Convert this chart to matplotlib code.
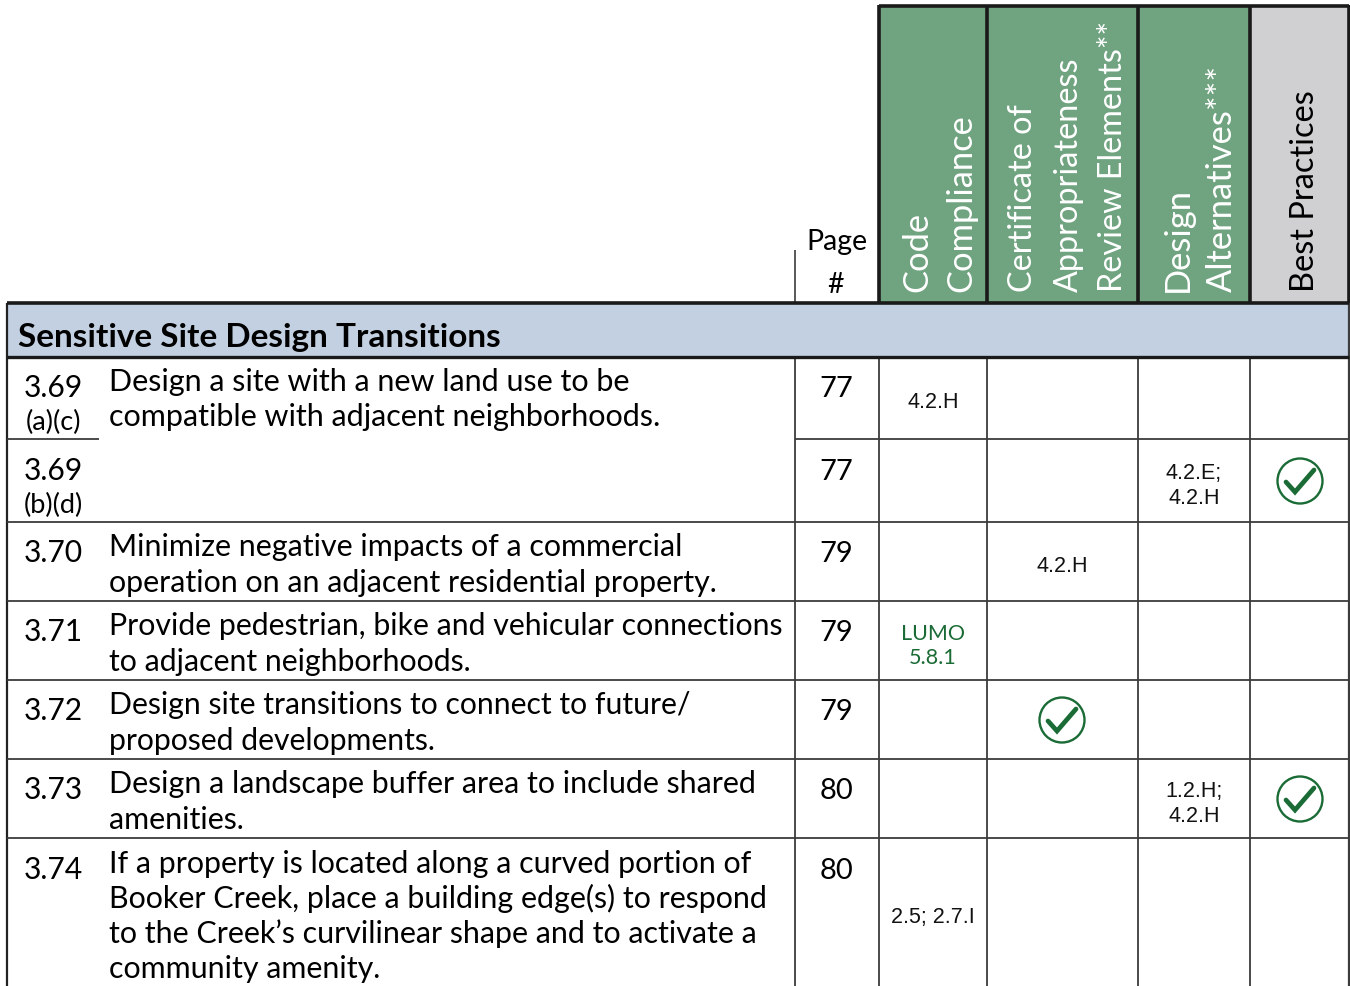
import matplotlib
matplotlib.use("Agg")
import matplotlib.pyplot as plt
from matplotlib.patches import Rectangle, Circle

plt.rcParams["font.family"] = ["Lato", "DejaVu Sans"]

# table content
section_title = "Sensitive Site Design Transitions"
numbers = ["3.69", "3.69", "3.70", "3.71", "3.72", "3.73", "3.74"]
sub_numbers = ["(a)(c)", "(b)(d)", "", "", "", "", ""]
pages = ["77", "77", "79", "79", "79", "80", "80"]
descriptions = [
    ["Design a site with a new land use to be", "compatible with adjacent neighborhoods."],
    [],
    ["Minimize negative impacts of a commercial", "operation on an adjacent residential property."],
    ["Provide pedestrian, bike and vehicular connections", "to adjacent neighborhoods."],
    ["Design site transitions to connect to future/", "proposed developments."],
    ["Design a landscape buffer area to include shared", "amenities."],
    ["If a property is located along a curved portion of", "Booker Creek, place a building edge(s) to respond",
     "to the Creek\u2019s curvilinear shape and to activate a", "community amenity."],
]
code_compliance = ["4.2.H", "", "", "LUMO\n5.8.1", "", "", "2.5; 2.7.I"]
certificate = ["", "", "4.2.H", "", "check", "", ""]
design_alt = ["", "4.2.E;\n4.2.H", "", "", "", "1.2.H;\n4.2.H", ""]
best_practices = ["", "check", "", "", "", "check", ""]
header_lines = [["Code", "Compliance"],
                ["Certificate of", "Appropriateness", "Review Elements**"],
                ["Design", "Alternatives***"],
                ["Best Practices"]]

# layout in pixels
col_x = [879, 987, 1138, 1250, 1349]
row_y = [357, 439, 522, 601, 680, 759, 838, 986]
header_x = [[917, 961], [1023, 1069, 1113], [1178, 1222], [1305]]
header_size = [24.8, 23.3, 24.8, 23.4]
desc_size = [22, 22, 21.85, 21.8, 21.7, 21.85, 21.9]
row_nudge = [0, 1, 0, 0, 0, 0, 1]
GREEN = "#70a37f"
GREY = "#d0d0d2"
BLUE = "#c2d0e2"
CHECK = "#1a6b35"
LINE = "#3c3c3c"

fig = plt.figure(figsize=(13.5, 9.86), dpi=100)
ax = fig.add_axes([0, 0, 1, 1])
ax.set_xlim(0, 1350)
ax.set_ylim(986, 0)
ax.axis("off")


def hline(x0, x1, y, color=LINE, lw=1.3):
    ax.plot([x0, x1], [y, y], color=color, lw=lw, zorder=3, solid_capstyle="butt")


def vline(x, y0, y1, color=LINE, lw=1.3):
    ax.plot([x, x], [y0, y1], color=color, lw=lw, zorder=2, solid_capstyle="butt")


def check_mark(x, y):
    ax.add_patch(Circle((x, y), 22.5, fc="white", ec=CHECK, lw=1.7, zorder=4))
    ax.plot([x - 14, x - 5, x + 14], [y + 1, y + 11, y - 11], color=CHECK, lw=3.4,
            solid_capstyle="round", solid_joinstyle="miter", zorder=5)


# header fills
for i in range(4):
    color = GREY if i == 3 else GREEN
    ax.add_patch(Rectangle((col_x[i], 6), col_x[i + 1] - col_x[i], 297, fc=color, ec="none"))
ax.add_patch(Rectangle((7, 303), 1342, 54, fc=BLUE, ec="none"))

# header labels
for i, lines in enumerate(header_lines):
    for x, line in zip(header_x[i], lines):
        ax.text(x, 292, line, rotation=90, ha="center", va="bottom", fontsize=header_size[i],
                color="black" if i == 3 else "white")

ax.text(837, 250, "Page", ha="center", va="baseline", fontsize=20.5)
ax.text(836, 293, "#", ha="center", va="baseline", fontsize=20.5)
ax.text(18, 347, section_title, ha="left", va="baseline", fontsize=23.95, fontweight="bold")

# grid lines
for x in [795] + col_x[:-1]:
    vline(x, 357, 986)
vline(7, 303, 986, color="#222222", lw=1.6)
vline(1349, 303, 986, lw=1.6)
vline(795, 250, 303, lw=1.2)
for y in row_y[1:-1]:
    hline(795 if y == 439 else 7, 1349, y)
hline(7, 99, 439)
hline(7, 1349, 303, color="#1a1a1a", lw=2.6)
hline(7, 1349, 357, color="#1a1a1a", lw=2.4)
hline(879, 1349, 6, color="#1a1a1a", lw=2.6)
for x in col_x:
    ax.plot([x, x], [5, 303], color="#1a1a1a", lw=2.6, zorder=3, solid_capstyle="butt")

# rows
col_centers = [933, 1062, 1194, 1300]
for r in range(len(numbers)):
    top = row_y[r] + row_nudge[r]
    ax.text(53.5, top + 40, numbers[r], ha="center", va="baseline", fontsize=21.6)
    if sub_numbers[r]:
        ax.text(53.5, top + 73, sub_numbers[r], ha="center", va="baseline", fontsize=19.5)
    ax.text(836.5, top + 40, pages[r], ha="center", va="baseline", fontsize=21)
    y = top + 34
    step = 35 if len(descriptions[r]) != 2 or r == 0 else 36
    for line in descriptions[r]:
        ax.text(109, y, line, ha="left", va="baseline", fontsize=desc_size[r])
        y += step
    mid = (row_y[r] + row_y[r + 1]) / 2
    if r == 6:
        mid = 913
    for c, cells in enumerate([code_compliance, certificate, design_alt, best_practices]):
        val = cells[r]
        if val == "check":
            check_mark(col_centers[c], mid + 0.5)
        elif val:
            ax.text(col_centers[c], mid + 5, val, ha="center", va="center", fontsize=15.5,
                    family="Liberation Sans" if r != 3 else "Lato",
                    color=CHECK if r == 3 else "#111111", linespacing=1.25)

fig.savefig("out.png", dpi=100)
